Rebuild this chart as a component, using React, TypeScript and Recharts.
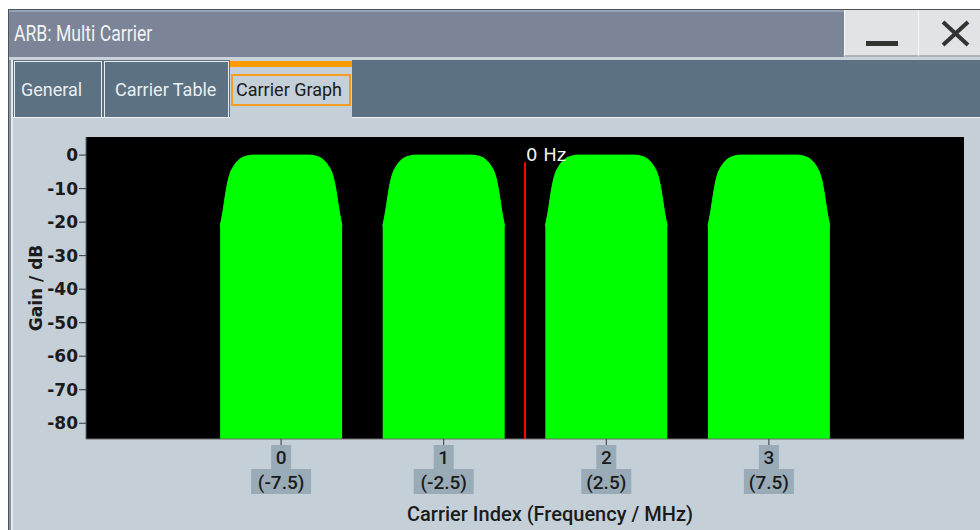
import React from "react";
import { ComposedChart, Area, XAxis, YAxis, CartesianGrid, ReferenceLine } from "recharts";

// Carriers: index and centre frequency (MHz)
const CARRIER_INDEX = [0, 1, 2, 3];
const CARRIER_FREQ = [-7.5, -2.5, 2.5, 7.5];
const FREQ_LABELS = ["(-7.5)", "(-2.5)", "(2.5)", "(7.5)"];
const GAIN_TICKS = [0, -10, -20, -30, -40, -50, -60, -70, -80];

// Spectrum of one carrier: offset from centre (MHz) / gain (dB)
const SHAPE_OFFSET = [-1.875, -1.83, -1.79, -1.72, -1.65, -1.57, -1.47, -1.36, -1.21, -1.05, -0.95, -0.86,
    0.86, 0.95, 1.05, 1.21, 1.36, 1.47, 1.57, 1.65, 1.72, 1.79, 1.83, 1.875];
const SHAPE_GAIN = [-21.2, -19, -16.9, -12.4, -8.5, -5.5, -3.5, -2, -0.8, -0.25, -0.05, 0,
    0, -0.05, -0.25, -0.8, -2, -3.5, -5.5, -8.5, -12.4, -16.9, -19, -21.2];

const GREEN = "#00ff00";
const LABEL_BOX = "#9aabb8";
const PANEL = "#c5cfd7";

// one table per carrier, built from the shape above
const carrierData = CARRIER_FREQ.map((f) =>
    SHAPE_OFFSET.map((o, i) => ({ freq: f + o, gain: SHAPE_GAIN[i] }))
);

const CarrierTick = (props: any) => {
    const { x, y, payload } = props;
    const idx = CARRIER_FREQ.indexOf(payload.value);
    const label = FREQ_LABELS[idx];
    const w = label.length * 10;
    return (
        <g>
            <rect x={x - 10} y={y} width={20} height={24} fill={LABEL_BOX} />
            <rect x={x - w / 2} y={y + 24} width={w} height={25} fill={LABEL_BOX} />
            <text x={x} y={y + 19} textAnchor="middle" fontFamily="Roboto" fontWeight={500} fontSize={19} fill="#1b1b1b">
                {CARRIER_INDEX[idx]}
            </text>
            <text x={x} y={y + 44} textAnchor="middle" fontFamily="Roboto" fontWeight={500} fontSize={19} fill="#1b1b1b">
                {label}
            </text>
        </g>
    );
};

const Chrome: React.FC = () => {
    const tabText: React.CSSProperties = {
        position: "absolute", fontFamily: "Roboto", fontSize: 18, lineHeight: "20px",
    };
    const btn: React.CSSProperties = {
        position: "absolute", top: 10, height: 45, background: "#e2e3e7",
        borderBottom: "2px solid #aeb3ba", borderLeft: "1px solid #f7f7f7",
    };
    return (
        <>
            {/* window frame */}
            <div style={{ position: "absolute", left: 8, top: 9, width: 972, height: 521, background: PANEL, borderLeft: "1px solid #4d535b", borderTop: "1px solid #4d535b" }} />
            <div style={{ position: "absolute", left: 9, top: 10, width: 2, height: 520, background: "#8d959e" }} />
            <div style={{ position: "absolute", left: 11, top: 10, width: 2, height: 520, background: "#e3e8ec" }} />
            {/* title bar */}
            <div style={{ position: "absolute", left: 9, top: 10, width: 971, height: 47, background: "#7b8597", borderTop: "2px solid #97a2b4", boxSizing: "border-box" }} />
            <div style={{ position: "absolute", left: 14, top: 21, fontFamily: "Roboto, sans-serif", fontSize: 22, color: "#f3f3f3", lineHeight: "26px", transform: "scaleX(0.8)", transformOrigin: "left center", whiteSpace: "nowrap" }}>
                ARB: Multi Carrier
            </div>
            <div style={{ ...btn, left: 844, width: 73 }}>
                <div style={{ position: "absolute", left: 21, top: 31, width: 32, height: 5, background: "#333" }} />
            </div>
            <div style={{ ...btn, left: 918, width: 62 }}>
                <svg width={62} height={45} style={{ position: "absolute", left: 0, top: 0 }}>
                    <line x1={24} y1={12} x2={49} y2={35} stroke="#333" strokeWidth={4} />
                    <line x1={49} y1={12} x2={24} y2={35} stroke="#333" strokeWidth={4} />
                </svg>
            </div>
            <div style={{ position: "absolute", left: 9, top: 57, width: 971, height: 3, background: "#c9d1d9" }} />
            {/* tab bar */}
            <div style={{ position: "absolute", left: 13, top: 60, width: 967, height: 58, background: "#5c7181", borderBottom: "1px solid #eef2f5", boxSizing: "border-box" }} />
            <div style={{ position: "absolute", left: 14, top: 61, width: 88, height: 57, border: "1px solid #e6ebef", borderBottom: "none", boxSizing: "border-box" }} />
            <div style={{ ...tabText, left: 21, top: 80, color: "#e9eef2" }}>General</div>
            <div style={{ position: "absolute", left: 104, top: 61, width: 125, height: 57, border: "1px solid #e6ebef", borderBottom: "none", boxSizing: "border-box" }} />
            <div style={{ ...tabText, left: 115, top: 80, color: "#e9eef2" }}>Carrier Table</div>
            <div style={{ position: "absolute", left: 230, top: 60, width: 122, height: 60, background: PANEL }} />
            <div style={{ position: "absolute", left: 230, top: 61, width: 122, height: 6, background: "#ff9a00" }} />
            <div style={{ position: "absolute", left: 231, top: 74, width: 120, height: 32, border: "2px solid #f49d20", boxSizing: "border-box" }} />
            <div style={{ ...tabText, left: 236, top: 80, color: "#1b1b1b" }}>Carrier Graph</div>
        </>
    );
};

const App: React.FC = () => {
    return (
        <div style={{ position: "absolute", left: 0, top: 0, width: 980, height: 530, background: "#fff", overflow: "hidden" }}>
            <Chrome />
            <div style={{ position: "absolute", left: 0, top: 120 }}>
                <ComposedChart width={980} height={410} margin={{ top: 17, right: 16, bottom: 0, left: 0 }}>
                    <CartesianGrid horizontal={false} vertical={false} fill="#000" stroke="none" />
                    <XAxis
                        type="number"
                        dataKey="freq"
                        domain={[-13.5, 13.5]}
                        ticks={CARRIER_FREQ}
                        interval={0}
                        allowDataOverflow
                        height={91}
                        tickSize={6}
                        tickMargin={0}
                        tickLine={{ stroke: "#333" }}
                        axisLine={{ stroke: "#6b6b6b" }}
                        tick={<CarrierTick />}
                        label={{
                            content: (p: any) => (
                                <text x={p.viewBox.x + p.viewBox.width / 2 + 25} y={p.viewBox.y + p.viewBox.height - 9}
                                    textAnchor="middle" fontFamily="Roboto" fontWeight={500} fontSize={20} fill="#1b1b1b">
                                    Carrier Index (Frequency / MHz)
                                </text>
                            ),
                        }}
                    />
                    <YAxis
                        type="number"
                        domain={[-84.7, 5.4]}
                        ticks={GAIN_TICKS}
                        interval={0}
                        allowDataOverflow
                        width={86}
                        tickSize={7}
                        tickMargin={1}
                        tickLine={{ stroke: "#333" }}
                        axisLine={{ stroke: "#6b6b6b" }}
                        tick={{ fill: "#1b1b1b", fontSize: 17, fontWeight: 700, fontFamily: "DejaVu Sans" }}
                        label={{
                            content: (p: any) => {
                                const cx = p.viewBox.x + p.viewBox.width / 2 - 7;
                                const cy = p.viewBox.y + p.viewBox.height / 2;
                                return (
                                    <text x={cx} y={cy} transform={`rotate(-90 ${cx} ${cy})`} textAnchor="middle"
                                        dominantBaseline="central" fontFamily="DejaVu Sans" fontWeight={700} fontSize={17} fill="#1b1b1b">
                                        Gain / dB
                                    </text>
                                );
                            },
                        }}
                    />
                    {carrierData.map((d, i) => (
                        <Area
                            key={`carrier-${CARRIER_INDEX[i]}`}
                            data={d}
                            dataKey="gain"
                            type="monotone"
                            baseValue="dataMin"
                            fill={GREEN}
                            fillOpacity={1}
                            stroke={GREEN}
                            strokeWidth={1}
                            isAnimationActive={false}
                        />
                    ))}
                    <ReferenceLine
                        segment={[{ x: 0, y: -2.1 }, { x: 0, y: -84.7 }]}
                        stroke="#ff0000"
                        strokeOpacity={1}
                        strokeWidth={2}
                        label={(p: any) => (
                            <text x={p.viewBox.x + 1} y={p.viewBox.y - 1} fontFamily="DejaVu Sans" fontWeight={500} fontSize={18} fill="#f4f4f4">
                                0 Hz
                            </text>
                        )}
                    />
                </ComposedChart>
            </div>
        </div>
    );
};

export default App;
